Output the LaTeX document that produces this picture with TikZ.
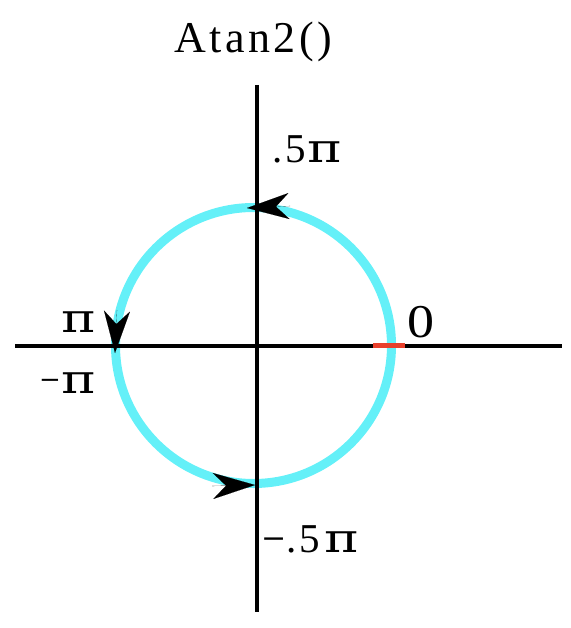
\documentclass[tikz,border=0pt]{standalone}
\usepackage{fontspec}
\usepackage{graphicx}
\setmainfont{Liberation Serif}
\newfontfamily\titlefont[LetterSpace=8]{Liberation Serif}
\newfontfamily\pifont{DejaVu Serif}
\newcommand\bigpi{\scalebox{1.3}[1]{\pifont\fontsize{40}{40}\selectfont π}}
\newcommand\mysign[2]{\raisebox{#2}{\pifont\fontsize{#1}{#1}\selectfont −}}
\usetikzlibrary{arrows.meta}
\definecolor{ringcyan}{RGB}{100,240,248}
\definecolor{zerored}{RGB}{232,64,44}
\begin{document}
\begin{tikzpicture}[x=1pt,y=-1pt,
  axis/.style={line width=4pt,black},
  ring/.style={line width=9pt,ringcyan},
  lbl/.style={inner sep=0pt,anchor=base west,font=\fontsize{41}{44}\selectfont},
  ttl/.style={inner sep=0pt,anchor=base,font=\titlefont\fontsize{44}{48}\selectfont},
  tip/.style={line width=0.1pt,-{Stealth[length=42pt,width=26pt,inset=13pt]}}]
\useasboundingbox (0,0) rectangle (570,628);
\coordinate (O) at (253.5,345.5);
\draw[ring] (O) circle[radius=138];
\coordinate (xl) at (15,345.5);
\coordinate (xr) at (562,345.5);
\coordinate (yt) at (256.5,85);
\coordinate (yb) at (256.5,612);
\draw[axis] (xl) -- (xr);
\draw[axis] (yt) -- (yb);
\coordinate (r1) at (373,345.5);
\coordinate (r2) at (405,345.5);
\draw[line width=5pt,zerored] (r1) -- (r2);
% arrowheads
\coordinate (at1) at (290,206);
\coordinate (at2) at (247,208);
\draw[tip] (at1) -- (at2);
\coordinate (al1) at (117,310);
\coordinate (al2) at (115,353);
\draw[tip] (al1) -- (al2);
\coordinate (ab1) at (212,486);
\coordinate (ab2) at (255,485);
\draw[tip] (ab1) -- (ab2);
% labels
\node[ttl] (title) at (253,53) {Atan2()};
\node[lbl] (top) at (272,163) {.\kern3pt 5\kern2pt\bigpi};
\node[lbl] (zero) at (407,337) {\scalebox{1.15}[1]{\fontsize{47}{48}\selectfont 0}};
\node[lbl] (pi) at (61,332) {\bigpi};
\node[lbl] (mpi) at (39,393) {\mysign{26}{4.5pt}\kern1pt\bigpi};
\node[lbl] (bot) at (261,552) {\mysign{30}{4pt}.\kern3pt 5\kern4pt\bigpi};
\end{tikzpicture}
\end{document}
